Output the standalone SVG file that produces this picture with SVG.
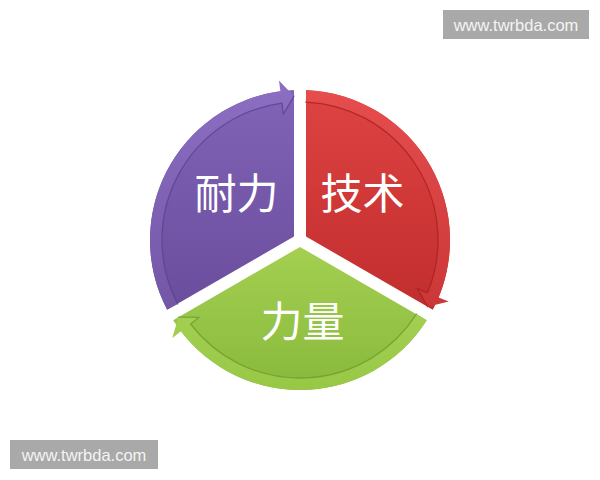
<svg xmlns="http://www.w3.org/2000/svg" width="600" height="480" viewBox="0 0 600 480">
  <defs>
    <linearGradient id="gP" gradientUnits="userSpaceOnUse" x1="0" y1="80" x2="0" y2="320">
      <stop offset="0" stop-color="#8264B8"/>
      <stop offset="1" stop-color="#6A4C9C"/>
    </linearGradient>
    <linearGradient id="gPb" gradientUnits="userSpaceOnUse" x1="0" y1="80" x2="0" y2="320">
      <stop offset="0" stop-color="#8C6FC3"/>
      <stop offset="1" stop-color="#7355A6"/>
    </linearGradient>
    <linearGradient id="gR" gradientUnits="userSpaceOnUse" x1="0" y1="90" x2="0" y2="320">
      <stop offset="0" stop-color="#DF4343"/>
      <stop offset="1" stop-color="#C02C2C"/>
    </linearGradient>
    <linearGradient id="gRb" gradientUnits="userSpaceOnUse" x1="0" y1="90" x2="0" y2="320">
      <stop offset="0" stop-color="#E64E4E"/>
      <stop offset="1" stop-color="#CA3535"/>
    </linearGradient>
    <linearGradient id="gG" gradientUnits="userSpaceOnUse" x1="0" y1="245" x2="0" y2="390">
      <stop offset="0" stop-color="#A5D052"/>
      <stop offset="1" stop-color="#88B93B"/>
    </linearGradient>
    <linearGradient id="gGb" gradientUnits="userSpaceOnUse" x1="0" y1="245" x2="0" y2="390">
      <stop offset="0" stop-color="#AED75B"/>
      <stop offset="1" stop-color="#98C746"/>
    </linearGradient>
  </defs>
  <style>
    .lbl { font-family: "Noto Sans CJK SC", "Noto Sans", sans-serif; font-size: 42px; fill: #FFFFFF; text-anchor: middle; }
    .wm-box { fill: #A9A9A9; }
    .wm { font-family: "Liberation Sans", Arial, sans-serif; font-size: 16.5px; fill: #F4F4F4; text-anchor: middle; }
    .edge { fill: none; stroke-width: 1.3; stroke-linejoin: round; stroke-linecap: round; opacity: 0.75; }
  </style>
  <rect width="600" height="480" fill="#FFFFFF"/>

  <g id="node-endurance">
    <path d="M 294 236.54 L 167.2 309.74 A 150 150 0 0 1 294 90.12 Z" fill="url(#gP)"/>
    <path d="M 167.07 309.5 A 150 150 0 0 1 280.42 91.28 L 278.98 80.38 L 293.97 96.13 L 283.42 114.09 L 281.99 103.18 A 138 138 0 0 0 177.7 303.94 Z" fill="url(#gPb)"/>
    <path class="edge" d="M 177.7 303.94 A 138 138 0 0 1 281.99 103.18 L 283.42 114.09 L 293.97 96.13" stroke="#5A408A"/>
    <text class="lbl" x="236.5" y="209">耐力</text>
  </g>

  <g id="node-technique">
    <path d="M 306 236.54 L 306 90.12 A 150 150 0 0 1 432.8 309.74 Z" fill="url(#gR)"/>
    <path d="M 306.28 90.13 A 150 150 0 0 1 438.58 297.4 L 448.74 301.61 L 427.61 306.72 L 417.33 288.6 L 427.5 292.81 A 138 138 0 0 0 305.78 102.12 Z" fill="url(#gRb)"/>
    <path class="edge" d="M 305.78 102.12 A 138 138 0 0 1 427.5 292.81 L 417.33 288.6 L 427.61 306.72" stroke="#A32020"/>
    <text class="lbl" x="362.5" y="209">技术</text>
  </g>

  <g id="node-strength">
    <path d="M 300 246.93 L 426.8 320.14 A 150 150 0 0 1 173.2 320.14 Z" fill="url(#gG)"/>
    <path d="M 426.65 320.37 A 150 150 0 0 1 181 331.31 L 172.27 338.01 L 178.42 317.16 L 199.24 317.31 L 190.52 324.01 A 138 138 0 0 0 416.52 313.94 Z" fill="url(#gGb)"/>
    <path class="edge" d="M 416.52 313.94 A 138 138 0 0 1 190.52 324.01 L 199.24 317.31 L 178.42 317.16" stroke="#6E9A2C"/>
    <text class="lbl" x="302.5" y="337">力量</text>
  </g>

  <g id="connectors"></g>

  <g id="watermark-top">
    <rect class="wm-box" x="443" y="10" width="146" height="29"/>
    <text class="wm" x="516" y="30.5">www.twrbda.com</text>
  </g>
  <g id="watermark-bottom">
    <rect class="wm-box" x="10" y="440" width="148" height="29"/>
    <text class="wm" x="84" y="460.5">www.twrbda.com</text>
  </g>
</svg>
